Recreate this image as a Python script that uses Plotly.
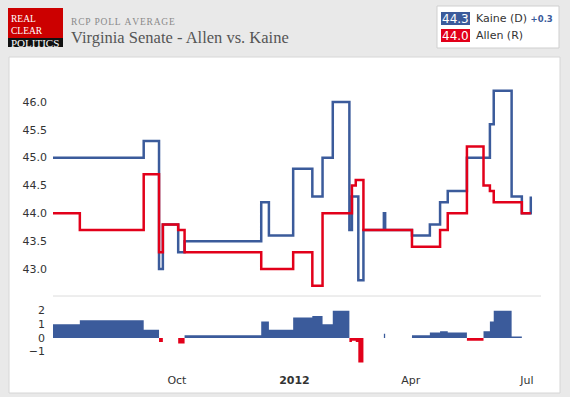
import plotly.graph_objects as go

# ---- data (step change points) ----
dates = ["2011-06-26", "2011-07-17", "2011-09-05", "2011-09-17", "2011-09-20",
         "2011-10-02", "2011-10-07", "2011-12-06", "2011-12-12", "2011-12-31",
         "2012-01-15", "2012-01-23", "2012-01-31", "2012-02-13", "2012-02-15",
         "2012-02-18", "2012-02-20", "2012-02-24", "2012-03-11", "2012-03-12",
         "2012-04-02", "2012-04-16", "2012-04-24", "2012-04-30", "2012-05-15",
         "2012-05-28", "2012-06-02", "2012-06-05", "2012-06-19", "2012-06-27",
         "2012-07-04"]
kaine = [45.0, 45.0, 45.3, 43.0, 43.8,
         43.3, 43.5, 44.2, 43.6, 44.8,
         44.3, 45.0, 46.0, 43.7, 44.3,
         44.3, 42.8, 43.7, 44.0, 43.7,
         43.6, 43.8, 44.2, 44.4, 45.0,
         45.0, 45.6, 46.2, 44.3, 44.0,
         44.3]
allen = [44.0, 43.7, 44.7, 43.3, 43.8,
         43.7, 43.3, 43.0, 43.0, 43.3,
         42.7, 44.0, 44.0, 44.0, 44.5,
         44.6, 44.6, 43.7, 43.7, 43.7,
         43.4, 43.4, 43.7, 44.0, 45.2,
         44.5, 44.4, 44.2, 44.2, 44.0,
         44.0]
main_ticks = [43.0, 43.5, 44.0, 44.5, 45.0, 45.5, 46.0]
spread_ticks = [-1, 0, 1, 2]
x_tickvals = ["2011-10-01", "2012-01-01", "2012-04-01", "2012-07-01"]
x_ticktext = ["Oct", "<b>2012</b>", "Apr", "Jul"]

spread = [round(k - a, 1) for k, a in zip(kaine, allen)]
pos = [max(s, 0) for s in spread]
neg = [min(s, 0) for s in spread]

BLUE = "#3b5b9b"
RED = "#e2001a"
W, H = 570, 397


def px(x):
    return x / W


def py(y):
    return 1 - y / H


fig = go.Figure()
fig.add_trace(go.Scatter(x=dates, y=kaine, mode="lines", name="Kaine (D)",
                         line=dict(color=BLUE, width=2.5, shape="hv"),
                         xaxis="x", yaxis="y", hoverinfo="skip"))
fig.add_trace(go.Scatter(x=dates, y=allen, mode="lines", name="Allen (R)",
                         line=dict(color=RED, width=2.5, shape="hv"),
                         xaxis="x", yaxis="y", hoverinfo="skip"))
fig.add_trace(go.Scatter(x=dates, y=pos, mode="lines", fill="tozeroy",
                         fillcolor=BLUE, line=dict(color=BLUE, width=0, shape="hv"),
                         xaxis="x2", yaxis="y2", hoverinfo="skip"))
fig.add_trace(go.Scatter(x=dates, y=neg, mode="lines", fill="tozeroy",
                         fillcolor=RED, line=dict(color=RED, width=0, shape="hv"),
                         xaxis="x2", yaxis="y2", hoverinfo="skip"))

tickfont = dict(family="DejaVu Sans", size=11, color="#333333")
xr = ["2011-06-26", "2012-07-12"]

shapes = [
    # card
    dict(type="rect", xref="paper", yref="paper", x0=px(9), x1=px(560), y0=py(393), y1=py(57),
         fillcolor="white", line=dict(color="#d6d6d6", width=1), layer="below"),
    # separator between panels
    dict(type="line", xref="paper", yref="paper", x0=px(53), x1=px(541), y0=py(296), y1=py(296),
         line=dict(color="#dcdcdc", width=1)),
    # logo
    dict(type="rect", xref="paper", yref="paper", x0=px(8), x1=px(63), y0=py(38), y1=py(8),
         fillcolor="#cc0000", line=dict(width=0)),
    dict(type="rect", xref="paper", yref="paper", x0=px(8), x1=px(63), y0=py(47), y1=py(38),
         fillcolor="#111111", line=dict(width=0)),
    # legend box
    dict(type="rect", xref="paper", yref="paper", x0=px(437), x1=px(559), y0=py(48), y1=py(6),
         fillcolor="white", line=dict(color="#cfcfcf", width=1)),
    dict(type="rect", xref="paper", yref="paper", x0=px(441), x1=px(470), y0=py(25), y1=py(12),
         fillcolor=BLUE, line=dict(width=0)),
    dict(type="rect", xref="paper", yref="paper", x0=px(441), x1=px(470), y0=py(42), y1=py(29),
         fillcolor=RED, line=dict(width=0)),
]

ann = []


def text(x, y, t, size, color, family="Liberation Serif", xanchor="left", align="left"):
    ann.append(dict(xref="paper", yref="paper", x=px(x), y=py(y), text=t, showarrow=False,
                    xanchor=xanchor, yanchor="middle", align=align,
                    font=dict(family=family, size=size, color=color)))


text(8.5, 31.5, "REAL<br>CLEAR<br><span style='font-size:11px'>POLITICS</span>", 9.5, "white")
hair = "\u200a"
text(69, 22, hair.join("RCP POLL AVERAGE"), 9.5, "#8a8a8a")
text(69, 37, "Virginia Senate - Allen vs. Kaine", 16.5, "#555555")
text(455.5, 18.5, f"{kaine[-1]:.1f}", 12, "white", "DejaVu Sans", "center")
text(455.5, 35.5, f"{allen[-1]:.1f}", 12, "white", "DejaVu Sans", "center")
text(474, 18.5, "Kaine (D) <b><span style='font-size:8.5px;color:%s'>+%.1f</span></b>"
     % (BLUE, spread[-1]), 11, "#333333", "DejaVu Sans")
text(474, 35.5, "Allen (R)", 11, "#333333", "DejaVu Sans")

fig.update_layout(
    width=W, height=H, margin=dict(l=0, r=0, t=0, b=0),
    paper_bgcolor="#e9e9e9", plot_bgcolor="#f4f4f4",
    showlegend=False, shapes=shapes, annotations=ann,
    xaxis=dict(domain=[px(53), px(541)], range=xr, anchor="y", showticklabels=False,
               showgrid=False, zeroline=False, type="date"),
    xaxis2=dict(domain=[px(53), px(541)], range=xr, anchor="y2", matches="x",
                tickvals=x_tickvals, ticktext=x_ticktext, tickfont=tickfont,
                showgrid=False, zeroline=False, ticks="", ticklabelstandoff=6, type="date"),
    yaxis=dict(domain=[py(296), py(73)], range=[42.515, 46.52], tickvals=main_ticks,
               ticktext=[f"{v:.1f}" for v in main_ticks], tickfont=tickfont,
               gridcolor="white", gridwidth=1, zeroline=False, ticks="", ticklabelstandoff=5),
    yaxis2=dict(domain=[py(366), py(296)], range=[-2.05, 3.07], tickvals=spread_ticks,
                tickfont=tickfont, gridcolor="white", gridwidth=1, zeroline=False,
                ticks="", ticklabelstandoff=7),
)

fig.write_html("out.html", config={"displayModeBar": False},
               post_script="document.body.style.margin='0px';")
